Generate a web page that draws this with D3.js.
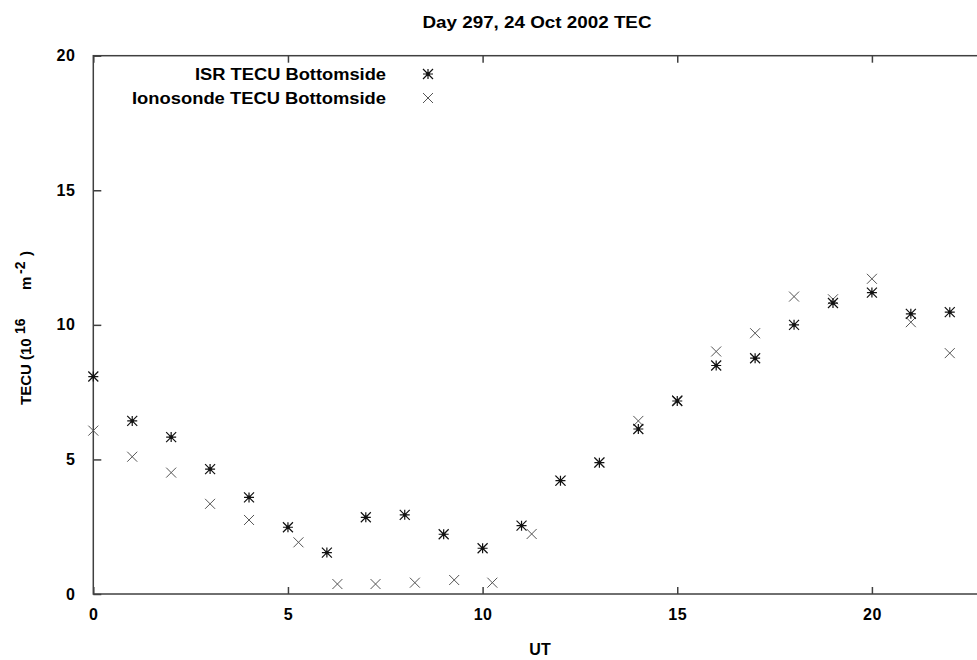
<!DOCTYPE html>
<html>
<head>
<meta charset="utf-8">
<script src="https://cdn.jsdelivr.net/npm/d3@7/dist/d3.min.js"></script>
<style>
  html, body { margin: 0; padding: 0; background: #fff; }
  svg { display: block; }
  text { font-family: "Liberation Sans", Arial, Helvetica, sans-serif; font-weight: bold; fill: #000; }
</style>
</head>
<body>
<svg id="chart" width="977" height="660"></svg>
<script>
// ---- data ----
const titleText = "Day 297, 24 Oct 2002 TEC";
const xLabel = "UT";
const seriesNames = ["ISR TECU Bottomside", "Ionosonde TECU Bottomside"];
const xTicks = [0, 5, 10, 15, 20];
const yTicks = [0, 5, 10, 15, 20];

const isrUT = [0,1,2,3,4,5,6,7,8,9,10,11,12,13,14,15,16,17,18,19,20,21,22];
const isrTEC = [8.08,6.43,5.83,4.64,3.59,2.48,1.54,2.85,2.94,2.22,1.70,2.54,4.21,4.88,6.13,7.17,8.49,8.76,10.0,10.81,11.2,10.41,10.47];

const ionoUT = [0,1,2,3,4,5.27,6.27,7.25,8.26,9.27,10.25,11.26,12,13,14,15,16,17,18,19,20,21,22];
const ionoTEC = [6.07,5.10,4.51,3.35,2.75,1.92,0.37,0.37,0.42,0.52,0.42,2.23,4.21,4.90,6.43,7.2,9.01,9.69,11.05,10.95,11.71,10.1,8.95];

// ---- layout ----
const svg = d3.select("#chart");
const mL = 93.3, mR = 988.7, mT = 55.7, mB = 594;
const x = d3.scaleLinear().domain([0, 23]).range([mL, mR]);
const y = d3.scaleLinear().domain([0, 20]).range([mB, mT]);
const frameColor = "#404040";

// frame
svg.append("rect")
  .attr("x", mL).attr("y", mT)
  .attr("width", mR - mL).attr("height", mB - mT)
  .attr("fill", "none").attr("stroke", frameColor).attr("stroke-width", 1.5);

// axes with inward ticks
const xBottom = d3.axisBottom(x).tickValues(xTicks).tickSizeInner(-7).tickSizeOuter(0).tickPadding(15);
const gxb = svg.append("g").attr("transform", `translate(0,${mB})`).call(xBottom);
const xTop = d3.axisTop(x).tickValues(xTicks).tickSizeInner(-7).tickSizeOuter(0).tickFormat("");
const gxt = svg.append("g").attr("transform", `translate(0,${mT})`).call(xTop);
const yLeft = d3.axisLeft(y).tickValues(yTicks).tickSizeInner(-8).tickSizeOuter(0).tickPadding(18);
const gyl = svg.append("g").attr("transform", `translate(${mL},0)`).call(yLeft);

[gxb, gxt, gyl].forEach(g => {
  g.select(".domain").remove();
  g.selectAll(".tick line").attr("stroke", frameColor).attr("stroke-width", 1.5);
  g.selectAll(".tick text").style("font-size", "16px").style("letter-spacing", "0.5px")
    .style("font-family", "'Liberation Sans', Arial, sans-serif").style("font-weight", "bold").attr("fill", "#000");
});
gxb.selectAll(".tick text").attr("dy", "0.71em");

// markers
function asterisk(g, cx, cy, r, color) {
  const d = `M${cx - r},${cy}L${cx + r},${cy}M${cx},${cy - r}L${cx},${cy + r}` +
            `M${cx - r},${cy - r}L${cx + r},${cy + r}M${cx - r},${cy + r}L${cx + r},${cy - r}`;
  g.append("path").attr("d", d).attr("stroke", color).attr("stroke-width", 1.2).attr("fill", "none");
  g.append("circle").attr("cx", cx).attr("cy", cy).attr("r", 1.8).attr("fill", color);
}
function cross(g, cx, cy, r, color) {
  const d = `M${cx - r},${cy - r}L${cx + r},${cy + r}M${cx - r},${cy + r}L${cx + r},${cy - r}`;
  g.append("path").attr("d", d).attr("stroke", color).attr("stroke-width", 1).attr("fill", "none");
}

const gIono = svg.append("g");
ionoUT.forEach((u, i) => cross(gIono, x(u), y(ionoTEC[i]), 5, "#555"));
const gIsr = svg.append("g");
isrUT.forEach((u, i) => asterisk(gIsr, x(u), y(isrTEC[i]), 5, "#111"));

// title
svg.append("text").attr("x", 537).attr("y", 28).attr("text-anchor", "middle")
  .style("font-size", "16px").attr("textLength", 229).attr("lengthAdjust", "spacingAndGlyphs")
  .text(titleText);

// legend
const legY = [74, 98];
const legW = [191, 254];
seriesNames.forEach((n, i) => {
  svg.append("text").attr("x", 386).attr("y", legY[i]).attr("dy", "0.36em")
    .attr("text-anchor", "end").style("font-size", "16px")
    .attr("textLength", legW[i]).attr("lengthAdjust", "spacingAndGlyphs")
    .text(n);
});
const gLeg = svg.append("g");
asterisk(gLeg, 428, legY[0], 5, "#111");
cross(gLeg, 428, legY[1], 5, "#555");

// x label
svg.append("text").attr("x", 540).attr("y", 655).attr("text-anchor", "middle")
  .style("font-size", "16px").text(xLabel);

// y label (rotated; pieces placed along the rotated baseline)
const yl = svg.append("g").attr("transform", "translate(31,0) rotate(-90)");
yl.append("text").attr("x", -405).attr("y", 0).style("font-size", "15px").text("TECU (10");
yl.append("text").attr("x", -334).attr("y", -6).style("font-size", "14px").text("16");
yl.append("text").attr("x", -290).attr("y", 0).style("font-size", "15px").text("m");
yl.append("text").attr("x", -274).attr("y", -6).style("font-size", "14px").text("-2");
yl.append("text").attr("x", -256).attr("y", 0).style("font-size", "15px").text(")");
</script>
</body>
</html>
